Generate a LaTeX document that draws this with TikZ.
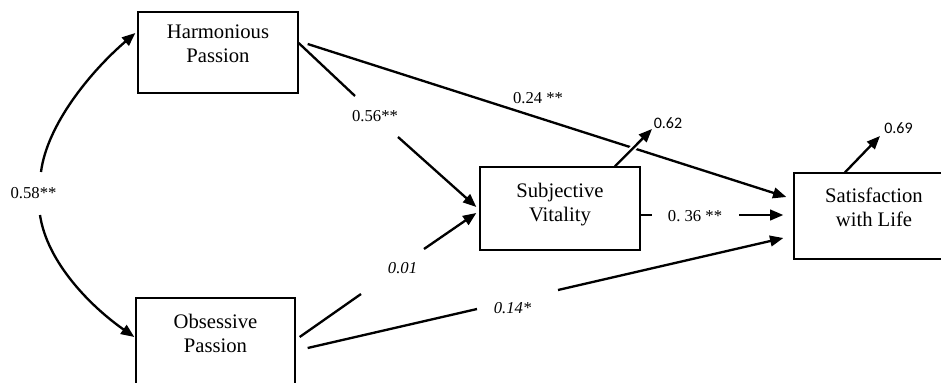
\documentclass[tikz,border=0pt]{standalone}
\usepackage{fontspec}
\setmainfont{Liberation Serif}
\newfontfamily\residfont{Carlito}
\usetikzlibrary{arrows.meta,calc}

\begin{document}
\begin{tikzpicture}[x=0.75pt,y=-0.75pt,
  box/.style={draw,line width=1pt,inner sep=0pt},
  boxtext/.style={align=center,inner sep=0pt,text depth=0pt,
    font=\fontsize{15.5}{18}\selectfont},
  seg/.style={line width=1.75pt},
  path/.style={seg,-{Triangle[length=10pt,width=8pt]}},
  coef/.style={anchor=base,inner sep=0pt,font=\fontsize{12.5}{15}\selectfont},
  coefit/.style={anchor=base,inner sep=0pt,font=\fontsize{12.5}{15}\selectfont\itshape},
  resid/.style={anchor=base,inner sep=0pt,font=\residfont\fontsize{12}{14}\selectfont}]

\useasboundingbox (0,0) rectangle (941,382);
\clip (0,0) rectangle (941,382);

% variables
\node[box,minimum width=120pt,minimum height=60.75pt] (hp)  at (218,52.5) {};
\node[box,minimum width=119.25pt,minimum height=75pt] (op)  at (215.5,348) {};
\node[box,minimum width=120pt,minimum height=62.25pt] (sv)  at (560,208.5) {};
\node[box,minimum width=120pt,minimum height=64.5pt]  (swl) at (874,216) {};

\node[boxtext] (hpt)  at (218,44)    {Harmonious\\Passion};
\node[boxtext] (opt)  at (215.5,333) {Obsessive\\Passion};
\node[boxtext] (svt)  at (560,202.5) {Subjective\\Vitality};
\node[boxtext] (swlt) at (874,207.5) {Satisfaction\\with Life};

% free ends of the broken paths
\coordinate (cA) at (41,172);
\coordinate (cB) at (40,215);
\coordinate (hsA) at (355,96);
\coordinate (hsB) at (398,137);
\coordinate (osA) at (361,294);
\coordinate (osB) at (424,249);
\coordinate (owA) at (477,309);
\coordinate (owB) at (558,290);
\coordinate (swA) at (652,215);
\coordinate (swB) at (739,215);
\coordinate (rsv) at (652,129);
\coordinate (rswl) at (880,136);

% correlation between the two passions
\draw[path] (cA) .. controls (47,125) and (90,72) .. ($(hp.west)+(-2,-19.5)$);
\draw[path] (cB) .. controls (47,262) and (90,306) .. ($(op.west)+(-1,-11)$);

% harmonious passion
\draw[path] ($(hp.east)+(9,-8.5)$) -- ($(swl.west)+(-7,-19)$);
\draw[seg]  ($(hp.east)+(0,-9.5)$) -- (hsA);
\draw[path] (hsB) -- ($(sv.west)+(-3,-1.5)$);

% obsessive passion
\draw[seg]  ($(op.east)+(4,-11)$) -- (osA);
\draw[path] (osB) -- ($(sv.west)+(-3,4.5)$);
\draw[seg]  ($(op.east)+(12,0)$) -- (owA);
\draw[path] (owB) -- ($(swl.west)+(-10,22)$);

% vitality to satisfaction
\draw[seg]  ($(sv.east)+(0,6.5)$) -- (swA);
\draw[path] (swB) -- ($(swl.west)+(-10,-1)$);

% explained variance
\draw[path,preaction={draw=white,line width=4.5pt,arrows=-,shorten <=4pt,shorten >=8pt}]
  ($(sv.north)+(55,0)$) -- (rsv);
\draw[path] ($(swl.north)+(-29,0)$) -- (rswl);

% coefficients
\node[coef]   (l58) at (33.5,198)  {0.58**};
\node[coef]   (l56) at (375,121)   {0.56**};
\node[coef]   (l24) at (538,103)   {0.24 **};
\node[coef]   (l36) at (695,221)   {0.\ 36 **};
\node[coefit] (l01) at (402.5,273) {0.01};
\node[coefit] (l14) at (512.5,313) {0.14*};
\node[resid]  (l62) at (668,128)   {0.62};
\node[resid]  (l69) at (898.5,133) {0.69};

\end{tikzpicture}
\end{document}
